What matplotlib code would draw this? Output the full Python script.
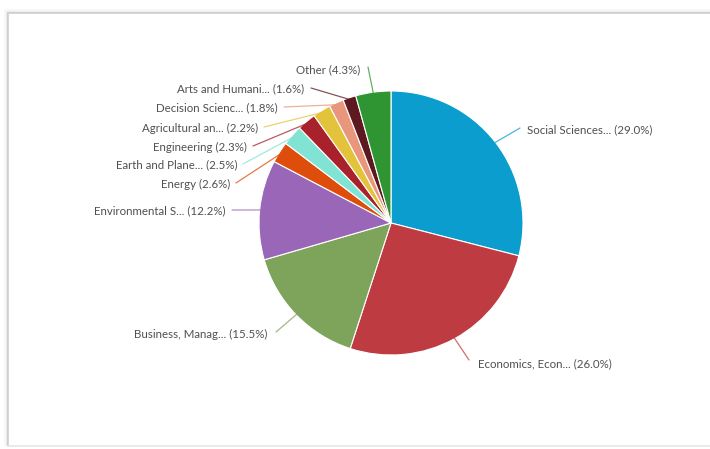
import matplotlib
matplotlib.use("Agg")
import matplotlib.pyplot as plt
import numpy as np

# Subject areas and their share of documents (%)
categories = [
    "Social Sciences...", "Economics, Econ...", "Business, Manag...",
    "Environmental S...", "Energy", "Earth and Plane...", "Engineering",
    "Agricultural an...", "Decision Scienc...", "Arts and Humani...", "Other",
]
shares = [29.0, 26.0, 15.5, 12.2, 2.6, 2.5, 2.3, 2.2, 1.8, 1.6, 4.3]
colors = [
    "#0c9dcf", "#bf3b42", "#7ea35a", "#9966b8", "#de4d0b", "#80e3d3",
    "#a8212b", "#e3c33c", "#e8967c", "#5c1a20", "#2f9532",
]

W, H = 710, 449
fig = plt.figure(figsize=(W / 100, H / 100), dpi=100)
fig.patch.set_facecolor("white")
ax = fig.add_axes([0, 0, 1, 1])

cx, cy, r = 391, H - 223, 132
wedges, _ = ax.pie(
    shares, colors=colors, startangle=90, counterclock=False,
    center=(cx, cy), radius=r, frame=True,
    wedgeprops=dict(edgecolor="white", linewidth=0.8),
)
ax.set_xlim(0, W)
ax.set_ylim(0, H)
ax.set_aspect("equal")
ax.axis("off")

# Panel frame with a soft shadow
for off, a in [(0, 0.55), (1.5, 0.25), (3, 0.1)]:
    ax.plot([8 - off, 8 - off, W + 5], [H - 446, H - 13 + off, H - 13 + off],
            color="#b5b5b5", lw=1.4, alpha=a, solid_capstyle="butt")
ax.plot([8, W + 5], [H - 446, H - 446], color="#e6e6e6", lw=1.2)

# Label anchor (text edge) positions and alignment, in pixels from top-left
label_pos = [
    (527, 130, "left"), (478, 364, "left"), (267, 334, "right"),
    (226, 211, "right"), (230, 184, "right"), (237, 165, "right"),
    (247, 147, "right"), (258, 128, "right"), (278, 108, "right"),
    (304, 89, "right"), (360, 70, "right"),
]
# Elbow points of the leader lines
elbows = [
    (520, 128), (469, 360), (276, 332), (232, 210), (236, 183), (243, 164),
    (253, 146), (264, 127), (284, 107), (311, 88), (368, 67),
]

for w, name, val, col, (lx, ly, ha), (ex, ey) in zip(
        wedges, categories, shares, colors, label_pos, elbows):
    mid = np.deg2rad((w.theta1 + w.theta2) / 2)
    sx = cx + (r - 2) * np.cos(mid)
    sy = cy + (r - 2) * np.sin(mid)
    ax.plot([sx, ex], [sy, H - ey], color=col, lw=0.9, alpha=0.75,
            solid_capstyle="round")
    ax.text(lx, H - ly, f"{name} ({val:.1f}%)", ha=ha, va="center",
            fontsize=8.3, color="#505050", family=["Lato", "DejaVu Sans"])

fig.savefig("out.png", dpi=100, facecolor="white")
